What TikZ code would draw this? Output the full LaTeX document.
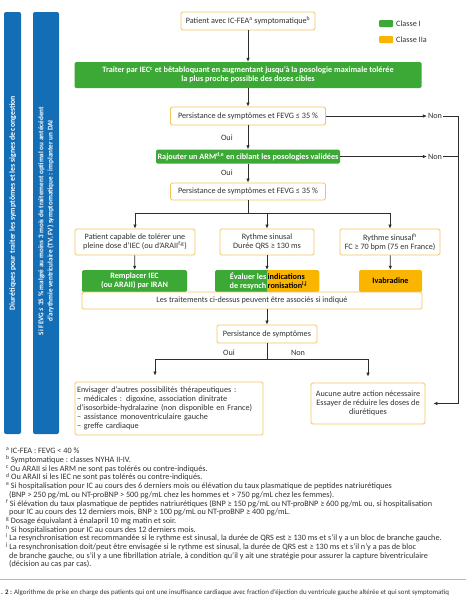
\documentclass[tikz,border=0pt]{standalone}
\usepackage{fontspec}
\setmainfont{Carlito}
\usetikzlibrary{arrows.meta}

\definecolor{clsI}{RGB}{60,168,54}
\definecolor{clsIIa}{RGB}{249,181,0}
\definecolor{boxline}{RGB}{242,198,92}
\definecolor{barblue}{RGB}{20,110,182}
\definecolor{linegray}{RGB}{45,45,45}
\definecolor{txtgray}{RGB}{50,50,50}
\definecolor{capline}{RGB}{140,200,222}

\begin{document}
\begin{tikzpicture}[x=1pt, y=-1pt,
  every node/.style={font=\fontsize{8.2}{9}\selectfont, text=txtgray, inner sep=1pt},
  box/.style={draw=boxline, line width=0.8pt, rounded corners=1.5pt, fill=white, align=center},
  greenbox/.style={fill=clsI, rounded corners=1.5pt, align=center, text=white, font=\fontsize{8.2}{9}\selectfont\bfseries},
  orangebox/.style={fill=clsIIa, rounded corners=1.5pt, align=center, text=black, font=\fontsize{8.2}{9}\selectfont\bfseries},
  bar/.style={fill=barblue, rounded corners=2pt, minimum height=422},
  bartext/.style={text=white, rotate=90, align=center, font=\fontsize{7.2}{9.2}\selectfont\bfseries},
  legsq/.style={fill=#1, rounded corners=1pt, minimum width=14, minimum height=7, inner sep=0pt},
  arrow/.style={-{Latex[length=4pt,width=3.4pt]}, line width=0.7pt, draw=linegray},
  link/.style={line width=0.7pt, draw=linegray}
]
\useasboundingbox (0,0) rectangle (466,600);
\fill[white] (0,0) rectangle (466,600);

\node[bar, minimum width=17] (diurbar) at (12.5,223) {};
\node[bar, minimum width=26] (daibar) at (46,223) {};
\node[bartext, font=\fontsize{7.8}{9}\selectfont\bfseries] (diurtxt) at (12.8,203) {Diurétiques pour traiter les symptômes et les signes de congestion};
\node[bartext] (daitxt) at (46,221) {Si FEVG ≤ 35 \% malgré au moins 3 mois de traitement optimal ou antécédent\\d'arythmie ventriculaire (TV, FV) symptomatique : implanter un DAI};

\node[legsq=clsI] (legI) at (386,23.5) {};
\node[anchor=west] (legItxt) at (395,23.5) {Classe I};
\node[legsq=clsIIa] (legII) at (386,39.5) {};
\node[anchor=west] (legIItxt) at (395,39.5) {Classe IIa};

\node[box, minimum width=134, minimum height=18] (patient) at (248,21) {Patient avec IC-FEA\textsuperscript{a} symptomatique\textsuperscript{b}};
\node[greenbox, minimum width=347, minimum height=26] (treat) at (248,75) {Traiter par IEC\textsuperscript{c} et bêtabloquant en augmentant jusqu'à la posologie maximale tolérée\\la plus proche possible des doses cibles};
\node[box, minimum width=155, minimum height=18] (pers1) at (248,116) {Persistance de symptômes et FEVG ≤ 35 \%};
\node[greenbox, minimum width=184, minimum height=14] (arm) at (248,156.5) {Rajouter un ARM\textsuperscript{d,e} en ciblant les posologies validées};
\node[box, minimum width=155, minimum height=17] (pers2) at (248,191.5) {Persistance de symptômes et FEVG ≤ 35 \%};

\node (non1) at (435,116) {Non};
\node (non2) at (435,156.5) {Non};
\coordinate (rail) at (458,116);

\node[box, minimum width=120, minimum height=26] (capable) at (135,242) {Patient capable de tolérer une\\pleine dose d'IEC (ou d'ARAII\textsuperscript{f,g})};
\node[box, minimum width=94, minimum height=26] (sinus) at (267,242) {Rythme sinusal\\Durée QRS ≥ 130 ms};
\node[box, minimum width=100, minimum height=26] (freq) at (390,242) {Rythme sinusal\textsuperscript{h}\\FC ≥ 70 bpm (75 en France)};

\node[greenbox, minimum width=105, minimum height=22] (replace) at (134.5,281) {Remplacer IEC\\(ou ARAII) par IRAN};
\node[greenbox, minimum width=104, minimum height=22,
  path picture={\fill[clsIIa] (path picture bounding box.north) rectangle (path picture bounding box.south east);}] (eval) at (267,281) {};
\node[anchor=east, align=right, text=white, font=\fontsize{8.2}{9}\selectfont\bfseries, inner sep=0.5pt] (evalL) at (eval.center) {Évaluer les\\de resynch};
\node[anchor=west, align=left, text=black, font=\fontsize{8.2}{9}\selectfont\bfseries, inner sep=0.5pt] (evalR) at (eval.center) {indications\\ronisation\textsuperscript{i,j}};
\node[orangebox, minimum width=63, minimum height=22] (ivab) at (390.5,281) {Ivabradine};
\node[box, minimum width=340, minimum height=17] (assoc) at (252,300.5) {Les traitements ci-dessus peuvent être associés si indiqué};

\node[box, minimum width=100, minimum height=18] (pers3) at (267,334) {Persistance de symptômes};
\coordinate (split) at (267,359);
\coordinate (ouiturn) at (155,359);
\node[box, minimum width=188, minimum height=53, align=left, text width=184] (envis) at (169,408.5) {Envisager d'autres possibilités thérapeutiques :\\– médicales : digoxine, association dinitrate\\d'isosorbide-hydralazine (non disponible en France)\\– assistance monoventriculaire gauche\\– greffe cardiaque};
\node[box, minimum width=114, minimum height=41] (aucune) at (368,403.5) {Aucune autre action nécessaire\\Essayer de réduire les doses de\\diurétiques};
\node (oui3) at (229,353) {Oui};
\node (non3) at (298,353) {Non};

\draw[arrow] (patient) -- (treat);
\draw[arrow] (treat) -- (pers1);
\draw[arrow] (pers1) -- node[left=14pt] (oui1) {Oui} (arm);
\draw[arrow] (arm) -- node[left=14pt] (oui2) {Oui} (pers2);
\draw[arrow] (pers1) -- (non1);
\draw[arrow] (arm) -- (non2);
\draw[link] (non2.east) -- (non2.east -| rail);
\draw[arrow, shorten >=8pt] (non1.east) -- (rail) |- (aucune.east);

\draw[link] (pers2.south) -- ++(0,13) coordinate (fork);
\draw[link] (fork -| capable) -- (fork -| freq);
\draw[arrow] (fork -| capable) -- (capable);
\draw[arrow] (fork -| sinus) -- (sinus);
\draw[arrow] (fork -| freq) -- (freq);
\draw[arrow] (capable) -- (replace);
\draw[arrow] (sinus) -- (eval);
\draw[arrow] (freq) -- (ivab);
\draw[arrow] (eval.south |- assoc.south) -- (pers3);

\draw[link] (pers3) -- (split);
\draw[link] (ouiturn) -- (split -| aucune);
\draw[arrow, shorten >=6pt] (ouiturn) -- (ouiturn |- envis.north);
\draw[arrow, shorten >=6pt] (split -| aucune) -- (aucune);

\node[anchor=north west, align=left, inner sep=0pt, font=\fontsize{8.2}{8.7}\selectfont] (notes) at (6,448) {%
\textsuperscript{a}\,IC-FEA : FEVG < 40 \%\\
\textsuperscript{b}\,Symptomatique : classes NYHA II-IV.\\
\textsuperscript{c}\,Ou ARAII si les ARM ne sont pas tolérés ou contre-indiqués.\\
\textsuperscript{d}\,Ou ARAII si les IEC ne sont pas tolérés ou contre-indiqués.\\
\textsuperscript{e}\,Si hospitalisation pour IC au cours des 6 derniers mois ou élévation du taux plasmatique de peptides natriurétiques\\
\hspace*{3pt}(BNP > 250 pg/mL ou NT-proBNP > 500 pg/mL chez les hommes et > 750 pg/mL chez les femmes).\\
\textsuperscript{f}\,Si élévation du taux plasmatique de peptides natriurétiques (BNP ≥ 150 pg/mL ou NT-proBNP ≥ 600 pg/mL ou, si hospitalisation\\
\hspace*{3pt}pour IC au cours des 12 derniers mois, BNP ≥ 100 pg/mL ou NT-proBNP ≥ 400 pg/mL.\\
\textsuperscript{g}\,Dosage équivalant à énalapril 10 mg matin et soir.\\
\textsuperscript{h}\,Si hospitalisation pour IC au cours des 12 derniers mois.\\
\textsuperscript{i}\,La resynchronisation est recommandée si le rythme est sinusal, la durée de QRS est ≥ 130 ms et s'il y a un bloc de branche gauche.\\
\textsuperscript{j}\,La resynchronisation doit/peut être envisagée si le rythme est sinusal, la durée de QRS est ≥ 130 ms et s'il n'y a pas de bloc\\
\hspace*{3pt}de branche gauche, ou s'il y a une fibrillation atriale, à condition qu'il y ait une stratégie pour assurer la capture biventriculaire\\
\hspace*{3pt}(décision au cas par cas).};

\draw[capline, line width=0.8pt] (0,579) -- (466,579);
\node[anchor=west, inner sep=0pt, font=\fontsize{6.9}{8}\selectfont] (caption) at (1,593) {\textbf{. 2 :} Algorithme de prise en charge des patients qui ont une insuffisance cardiaque avec fraction d'éjection du ventricule gauche altérée et qui sont symptomatiq};
\end{tikzpicture}
\end{document}
